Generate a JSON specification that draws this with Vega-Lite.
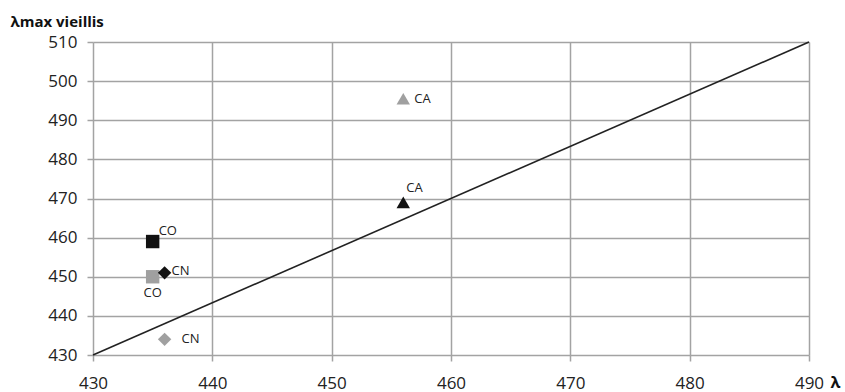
{
  "$schema": "https://vega.github.io/schema/vega-lite/v6.json",
  "width": 716,
  "height": 313,
  "autosize": "none",
  "padding": {"left": 93, "top": 42, "right": 36, "bottom": 37},
  "background": "white",
  "config": {
    "view": {"stroke": null},
    "font": "Open Sans",
    "axis": {
      "gridColor": "#a3a3a3",
      "gridWidth": 1.5,
      "gridOpacity": 1,
      "domain": false,
      "tickColor": "#a3a3a3",
      "tickWidth": 1.5,
      "tickSize": 6,
      "labelFont": "Open Sans",
      "labelFontSize": 17,
      "labelColor": "#222",
      "labelOverlap": false,
      "labelFlush": false,
      "titleFont": "Open Sans",
      "titleFontWeight": "bold",
      "titleColor": "#111"
    }
  },
  "datasets": {
    "points": [
      {"x": 456, "y": 495.5, "type": "CA", "groupe": "gris"},
      {"x": 456, "y": 469, "type": "CA", "groupe": "noir"},
      {"x": 435, "y": 459, "type": "CO", "groupe": "noir"},
      {"x": 435, "y": 450, "type": "CO", "groupe": "gris"},
      {"x": 436, "y": 451, "type": "CN", "groupe": "noir"},
      {"x": 436, "y": 434, "type": "CN", "groupe": "gris"}
    ],
    "diag": [
      {"x": 430, "y": 430},
      {"x": 490, "y": 510}
    ]
  },
  "encoding": {
    "x": {
      "field": "x", "type": "quantitative",
      "scale": {"domain": [430, 490], "nice": false, "zero": false},
      "axis": {
        "values": [430, 440, 450, 460, 470, 480, 490],
        "title": "λ",
        "titleFontSize": 16,
        "titleAlign": "left",
        "titleAnchor": "start",
        "titleX": 737,
        "titleY": 27,
        "titleBaseline": "middle",
        "labelPadding": 14
      }
    },
    "y": {
      "field": "y", "type": "quantitative",
      "scale": {"domain": [430, 510], "nice": false, "zero": false},
      "axis": {
        "values": [430, 440, 450, 460, 470, 480, 490, 500, 510],
        "title": "λmax vieillis",
        "titleFontSize": 15,
        "titleAngle": 0,
        "titleAlign": "left",
        "titleAnchor": "start",
        "titleBaseline": "middle",
        "titleX": -83,
        "titleY": -21,
        "labelPadding": 10
      }
    }
  },
  "layer": [
    {
      "data": {"name": "diag"},
      "mark": {"type": "line", "color": "#222", "strokeWidth": 1.6}
    },
    {
      "data": {"name": "points"},
      "mark": {"type": "point", "filled": true, "opacity": 1, "size": 180},
      "encoding": {
        "shape": {
          "field": "type", "type": "nominal",
          "scale": {"domain": ["CA", "CO", "CN"], "range": ["triangle-up", "square", "diamond"]},
          "legend": null
        },
        "color": {
          "field": "groupe", "type": "nominal",
          "scale": {"domain": ["noir", "gris"], "range": ["#111111", "#a0a0a0"]},
          "legend": null
        }
      }
    },
    {
      "data": {"name": "points"},
      "transform": [{"filter": "datum.type === 'CA' && datum.groupe === 'gris'"}],
      "mark": {"type": "text", "align": "left", "baseline": "middle", "dx": 11, "dy": 0, "fontSize": 13, "color": "#222"},
      "encoding": {"text": {"field": "type"}}
    },
    {
      "data": {"name": "points"},
      "transform": [{"filter": "datum.type === 'CA' && datum.groupe === 'noir'"}],
      "mark": {"type": "text", "align": "left", "baseline": "middle", "dx": 3, "dy": -14, "fontSize": 13, "color": "#222"},
      "encoding": {"text": {"field": "type"}}
    },
    {
      "data": {"name": "points"},
      "transform": [{"filter": "datum.type === 'CO' && datum.groupe === 'noir'"}],
      "mark": {"type": "text", "align": "left", "baseline": "middle", "dx": 6, "dy": -11, "fontSize": 13, "color": "#222"},
      "encoding": {"text": {"field": "type"}}
    },
    {
      "data": {"name": "points"},
      "transform": [{"filter": "datum.type === 'CO' && datum.groupe === 'gris'"}],
      "mark": {"type": "text", "align": "center", "baseline": "middle", "dx": 0, "dy": 16, "fontSize": 13, "color": "#222"},
      "encoding": {"text": {"field": "type"}}
    },
    {
      "data": {"name": "points"},
      "transform": [{"filter": "datum.type === 'CN' && datum.groupe === 'noir'"}],
      "mark": {"type": "text", "align": "left", "baseline": "middle", "dx": 7, "dy": -2, "fontSize": 13, "color": "#222"},
      "encoding": {"text": {"field": "type"}}
    },
    {
      "data": {"name": "points"},
      "transform": [{"filter": "datum.type === 'CN' && datum.groupe === 'gris'"}],
      "mark": {"type": "text", "align": "left", "baseline": "middle", "dx": 17, "dy": 0, "fontSize": 13, "color": "#222"},
      "encoding": {"text": {"field": "type"}}
    }
  ]
}
